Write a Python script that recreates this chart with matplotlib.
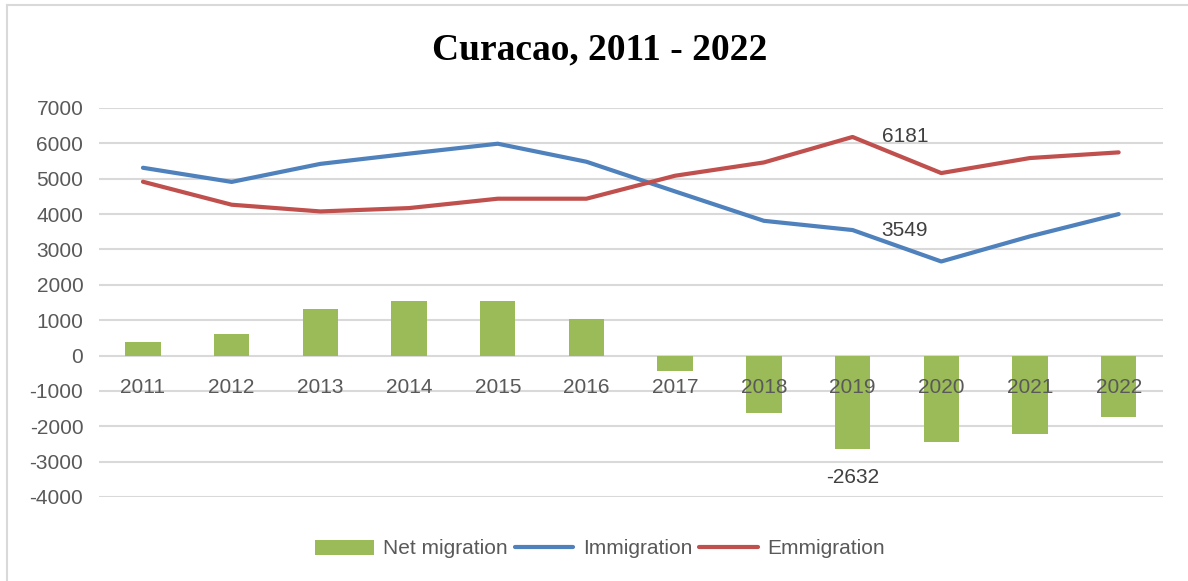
import matplotlib

matplotlib.use("Agg")
import matplotlib.pyplot as plt
import numpy as np
from matplotlib.lines import Line2D
from matplotlib.patches import Patch

# values
years = ["2011", "2012", "2013", "2014", "2015", "2016",
         "2017", "2018", "2019", "2020", "2021", "2022"]
net_migration = [380, 620, 1330, 1530, 1530, 1040,
                 -450, -1630, -2632, -2440, -2210, -1740]
immigration = [5310, 4910, 5420, 5710, 5990, 5480,
               4640, 3810, 3549, 2660, 3370, 4000]
emmigration = [4915, 4265, 4075, 4170, 4435, 4435,
               5085, 5460, 6181, 5160, 5585, 5745]

GREEN = "#9BBB59"
BLUE = "#4F81BD"
RED = "#C0504D"
GRID = "#D9D9D9"
TICK = "#595959"
FONT = "Liberation Sans"

plt.rcParams["axes.unicode_minus"] = False
plt.rcParams["font.family"] = FONT

W, H = 1188, 581
fig = plt.figure(figsize=(W / 100, H / 100), dpi=100)
ax = fig.add_axes([98.6 / W, 1 - 497 / H, (1163 - 98.6) / W, (497 - 108) / H])

x = np.arange(len(years))
yticks = np.arange(-4000, 7001, 1000)
for yv in yticks:
    ax.axhline(yv, color=GRID, lw=1.5, zorder=0)
ax.bar(x, net_migration, width=0.4, color=GREEN, zorder=2)
ax.plot(x, immigration, color=BLUE, lw=3.0, solid_capstyle="round", zorder=3)
ax.plot(x, emmigration, color=RED, lw=3.0, solid_capstyle="round", zorder=3)

ax.set_xlim(-0.5, len(years) - 0.5)
ax.set_ylim(-4000, 7000)
ax.set_axisbelow(False)  # year labels sit on top of the negative bars
ax.spines["bottom"].set_position(("data", 0))
for side in ax.spines.values():
    side.set_visible(False)
ax.set_yticks(yticks)
ax.set_xticks(x)
ax.set_xticklabels(years)
ax.tick_params(axis="x", length=0, pad=16, labelsize=15, labelcolor=TICK)
ax.tick_params(axis="y", length=0, pad=11, labelsize=15, labelcolor=TICK)

# data labels
i19 = years.index("2019")
for val, off, ha in [(emmigration[i19], (21, 0), "left"),
                     (immigration[i19], (21, 0), "left"),
                     (net_migration[i19], (0, -21), "center")]:
    ax.annotate(f"{val}", (x[i19], val), xytext=off, textcoords="offset points",
                ha=ha, va="center", fontsize=15, color="#404040")

fig.text(600 / W, 1 - 50 / H, "Curacao, 2011 - 2022", ha="center", va="center",
         family="Liberation Serif", fontweight="bold", fontsize=27)

handles = [
    Patch(facecolor=GREEN, edgecolor="none"),
    Line2D([], [], color=BLUE, lw=3.0, solid_capstyle="round"),
    Line2D([], [], color=RED, lw=3.0, solid_capstyle="round"),
]
fig.legend(handles, ["Net migration", "Immigration", "Emmigration"],
           loc="center", bbox_to_anchor=(600 / W, 1 - 549 / H), ncol=3,
           frameon=False, prop={"size": 15},
           labelcolor=TICK, handlelength=2.8, handleheight=0.7,
           handletextpad=0.45, columnspacing=0.35)

# chart border (partly cropped in the reference)
fig.add_artist(Line2D([7 / W, 7 / W], [0, 1 - 5 / H], color=GRID, lw=1.5))
fig.add_artist(Line2D([7 / W, 1], [1 - 5 / H, 1 - 5 / H], color=GRID, lw=1.5))

fig.savefig("out.png", dpi=100)
